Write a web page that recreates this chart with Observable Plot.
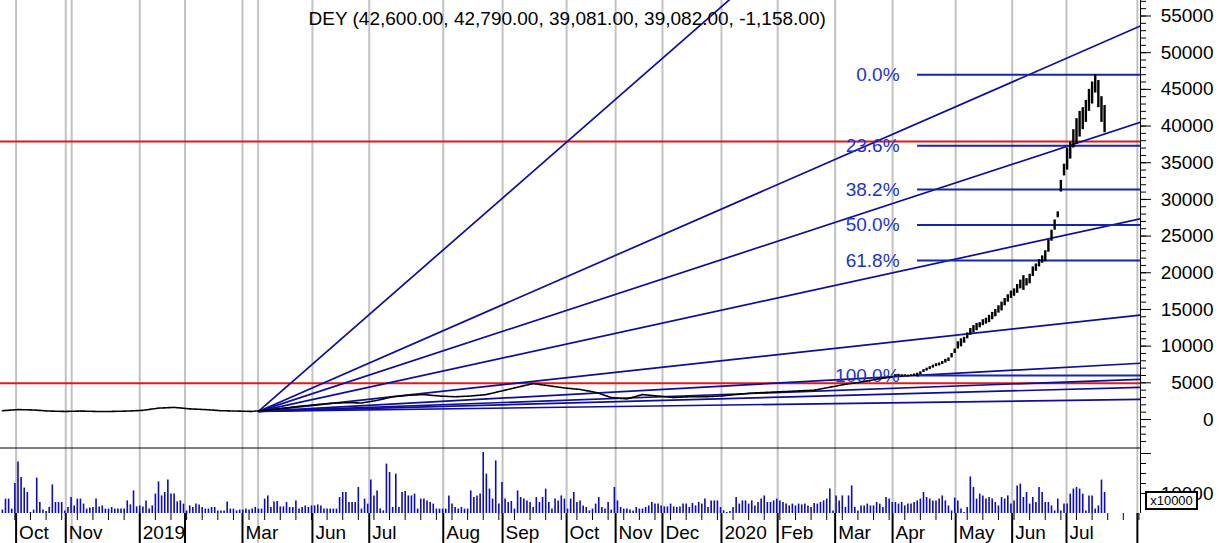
<!DOCTYPE html>
<html><head><meta charset="utf-8">
<script src="https://cdn.jsdelivr.net/npm/d3@7"></script>
<script src="https://cdn.jsdelivr.net/npm/@observablehq/plot@0.6"></script>
<style>
html,body{margin:0;padding:0;background:#fff;}
#wrap{position:relative;width:1220px;height:543px;overflow:hidden;font-family:"Liberation Sans",Arial,sans-serif;}
#wrap svg{display:block;}
#mult{position:absolute;left:1145px;top:491px;width:49px;height:15px;border:2px solid #000;background:#fff;font-size:13px;line-height:15px;text-align:center;font-family:"Liberation Sans",Arial,sans-serif;}
</style></head><body><div id="wrap"></div>
<script>
// ---------- data ----------
const ticker = "DEY";
const lastOHLC = [42600, 42790, 39081, 39082, -1158];

// x axis is the trading-bar index
const gridBars = [4.4, 20.3, 22.2, 44, 58.5, 76.9, 81.9, 99.3, 117.5, 141.2, 160.2, 180.7, 196.4, 211.4, 230.3, 248.3, 266.7, 285.1, 305.3, 323.4, 340.8, 363.5];
const monthTickBars = [4.4, 20.3, 44, 58.5, 76.9, 99.3, 117.5, 141.2, 160.2, 180.7, 196.4, 211.4, 230.3, 248.3, 266.7, 285.1, 305.3, 323.4, 340.8, 363.5];
const labelBars = [4.4, 20.3, 44, 76.9, 99.3, 117.5, 141.2, 160.2, 180.7, 196.4, 211.4, 230.3, 248.3, 266.7, 285.1, 305.3, 323.4, 340.8];
const labelTexts = ["Oct", "Nov", "2019", "Mar", "Jun", "Jul", "Aug", "Sep", "Oct", "Nov", "Dec", "2020", "Feb", "Mar", "Apr", "May", "Jun", "Jul"];

// weekly closes (one every 5 bars) for bars 0..285
const weeklyStep = 5;
const weeklyClose = [1200, 1350, 1300, 1150, 1100, 1150, 1100, 1100, 1150, 1250,
  1550, 1650, 1450, 1350, 1200, 1150, 1100, 1300, 1550, 1800,
  2000, 2200, 2300, 2250, 2600, 3100, 3300, 3400, 3200, 3100,
  3200, 3400, 3900, 4400, 4900, 4600, 4300, 4100, 3700, 3000,
  2800, 3400, 3200, 3000, 3100, 3100, 3200, 3400, 3600, 3700,
  3800, 3900, 4000, 4400, 4800, 5100, 5500, 5800];

// daily bars of the rally, bars 286..353
const rallyStart = 286;
const rallyLow = [5800, 5850, 5800, 5900, 5800, 5900, 5850, 5800, 6100, 6400,
  6600, 6800, 7000, 7200, 7300, 7500, 7700, 7900, 8400, 9000,
  9600, 9900, 10400, 11000, 11500, 11800, 12100, 12500, 12800, 13000,
  13200, 13600, 14000, 14500, 14800, 15500, 16000, 16500, 16800, 17200,
  17800, 17600, 18200, 18500, 19500, 20200, 20800, 21300, 21500, 22800,
  24300, 25800, 27500, 31000, 33200, 34000, 35500, 37000, 37500, 38500,
  39500, 40500, 42000, 43000, 44500, 42500, 40500, 39081];
const rallyHigh = [6100, 6150, 6100, 6100, 6050, 6100, 6200, 6300, 6500, 6800,
  7000, 7200, 7400, 7600, 7700, 7900, 8200, 8400, 9000, 9600,
  10600, 11000, 11200, 11800, 12400, 12800, 13100, 13200, 13600, 13800,
  14200, 14600, 15000, 15500, 16000, 16500, 17000, 17500, 17800, 18400,
  19000, 19600, 19200, 19800, 20800, 21200, 21800, 22300, 23000, 24500,
  25800, 27200, 28300, 32600, 34800, 37000, 37800, 39500, 41000, 42000,
  42500, 43500, 45000, 46000, 47000, 46200, 44000, 42790];

// daily volume (axis units, shown x10000), bars 0..353
const volume = [
  1700,7200,7200,2200,15000,25800,18000,12700,10500,500,
  1700,17700,5500,1700,1000,3000,14300,5500,5500,5500,
  1300,3000,8000,3800,7200,7200,4700,2200,2700,3000,
  7200,3300,3800,2200,2200,3000,2200,2200,2200,2200,
  6300,4300,11300,3300,3800,3300,6300,2200,3800,9700,
  15800,8800,10500,16800,9700,9700,5800,6300,4700,1300,
  3800,3000,4700,4300,3000,2200,2200,3000,3000,1300,
  1300,1300,5800,2200,2200,1300,1700,1700,2200,1700,
  2200,3000,2200,2200,7200,8800,3000,5800,6000,3300,
  3300,5500,3000,3000,6300,2200,
  3000,3800,3000,3800,3800,4300,3800,2200,2200,2200,2200,
  2200,8000,10500,10500,5500,5500,5500,13000,2200,7200,
  4700,16700,8800,11300,2200,1300,24700,20500,3000,19700,3000,
  10500,11000,8800,8800,9700,2200,7200,7200,6300,5500,
  4700,2200,2200,2200,2200,8800,4700,3000,2200,3000,2200,
  2200,11300,8000,8800,9700,30500,19700,12200,7200,26300,4700,
  15500,7200,5500,6000,2200,11300,8000,7200,6300,5500,3000,
  8000,5500,8000,12200,5500,2200,7200,6300,8800,7200,2200,
  7200,10500,5500,6300,3800,3000,1300,2200,4700,8000,3000,2200,
  5500,1700,13000,6300,3000,2200,2200,1700,1300,3000,
  2200,2200,3000,3800,5500,4700,4700,3800,3300,3300,
  4700,3300,3000,3300,4700,4700,3000,5000,3800,5500,
  4700,7200,3000,6300,6300,6300,3000,1300,500,1000,
  3000,8000,4700,6300,6300,4700,6300,3800,5500,7200,
  8800,5500,5500,6300,7200,6300,5500,4700,3800,4700,
  3800,4700,4300,4700,3800,3000,5000,4700,5500,6300,
  7200,12200,1300,8800,6300,8800,3000,8800,13800,3000,
  1300,3800,3800,4700,3800,3800,5500,4700,3000,8000,
  7200,5500,5500,4700,5500,3800,4700,4700,5500,6300,
  7200,10500,8000,7200,6300,6300,7200,8800,6300,3800,
  1300,7700,6300,2200,500,3000,18300,13000,7200,9700,
  8800,7200,8000,7200,5500,3800,8000,7200,8800,4700,
  6300,13800,14700,8000,10500,4700,8000,5500,13000,10500,
  5500,5500,3800,1300,7200,1300,4700,4700,9700,12200,
  13000,12200,9700,1300,8800,8800,2200,3800,16700,10500];

// Gann fan
const fanOriginBar = 82;
const fanOriginPrice = 1100;
const fanUnit = 46.5;               // price per bar of the 1x1 line
const fanRatios = [8, 4, 3, 2, 1, 1/2, 1/3, 1/4, 1/8];

// Fibonacci retracement
const fibHigh = 47000, fibLow = 6000;
const fibStartBar = 293.1;
const fibLevels = [0, 23.6, 38.2, 50.0, 61.8, 100.0];

// horizontal red lines
const redLevels = [37900, 4950];

// axis ticks
const priceMajorTicks = d3.range(0, 55001, 5000);
const priceMinorTicks = d3.range(-3000, 57001, 1000);
const volLabelTicks = [10000];
const volMinorTicks = [10000, 15000, 20000, 25000];
const volMajorTicks = [30000];
const volMultiplier = "x10000";

// ---------- build ----------
const xDomain = [-0.6, 364.5];
const yDomain = [-3817, 57113];
const volDomain = [0, 33000];
const font = "'Liberation Sans', Arial, sans-serif";

const weekly = weeklyClose.map((c, i) => ({bar: i * weeklyStep, close: c}));
const rally = rallyLow.map((l, i) => ({bar: rallyStart + i, low: l, high: rallyHigh[i]}));
const vols = volume.map((v, i) => ({bar: i, vol: v}));
const fan = fanRatios.map(r => ({
  b0: fanOriginBar, p0: fanOriginPrice,
  b1: xDomain[1], p1: fanOriginPrice + r * fanUnit * (xDomain[1] - fanOriginBar)
}));
const fib = fibLevels.map(l => ({
  v: fibHigh - (l / 100) * (fibHigh - fibLow),
  label: l.toFixed(1) + "%",
  x1: fibStartBar, x2: xDomain[1]
}));
const labels = labelBars.map((b, i) => ({bar: b, text: labelTexts[i]}));
const fmt = d3.format(",.2f");
const title = `${ticker} (${lastOHLC.map(v => fmt(v).replace("\u2212", "-")).join(", ")})`;

const lineBlue = "#0e0e98";
const fibBlue = "#1626ac";
const textBlue = "#2233cc";
const red = "#e41818";
const grid = "#c2c2c2";

const pricePlot = Plot.plot({
  width: 1220, height: 447,
  marginLeft: 0, marginRight: 80, marginTop: 0, marginBottom: 0,
  x: {domain: xDomain, axis: null, label: null},
  y: {domain: yDomain, label: null},
  style: {fontFamily: font, fontSize: "19px", background: "#fff", overflow: "visible"},
  marks: [
    Plot.ruleX(gridBars, {stroke: grid, strokeWidth: 2}),
    Plot.ruleY(redLevels, {stroke: red, strokeWidth: 2}),
    Plot.link(fan, {x1: "b0", y1: "p0", x2: "b1", y2: "p1", stroke: lineBlue, strokeWidth: 1.7, clip: true}),
    Plot.ruleY(fib, {y: "v", x1: "x1", x2: "x2", stroke: fibBlue, strokeWidth: 2}),
    Plot.text(fib, {x: "x1", y: "v", text: "label", textAnchor: "end", dx: -18, fill: textBlue, fontSize: 19}),
    Plot.line(weekly, {x: "bar", y: "close", stroke: "#000", strokeWidth: 1.6, strokeDasharray: "1.5,1"}),
    Plot.ruleX(rally, {x: "bar", y1: "low", y2: "high", stroke: "#000", strokeWidth: 2.4}),
    Plot.text([title], {frameAnchor: "top-left", dx: 308, dy: 18, textAnchor: "start", lineAnchor: "middle", fontSize: 19, fill: "#000"}),
    Plot.axisY({anchor: "right", ticks: priceMinorTicks, tickSize: 5, fill: "none", label: null}),
    Plot.axisY({anchor: "right", ticks: priceMajorTicks, tickSize: 10, tickPadding: 63, textAnchor: "end", tickFormat: d => String(d), fontSize: 19, label: null}),
    Plot.ruleX([xDomain[1]], {stroke: "#000", strokeWidth: 1})
  ]
});

const volPlot = Plot.plot({
  width: 1220, height: 96,
  marginLeft: 0, marginRight: 80, marginTop: 0, marginBottom: 30,
  x: {domain: xDomain, label: null},
  y: {domain: volDomain, label: null},
  style: {fontFamily: font, fontSize: "19px", background: "#fff", overflow: "visible"},
  marks: [
    Plot.ruleX(gridBars, {stroke: grid, strokeWidth: 2}),
    Plot.ruleX(vols, {x: "bar", y1: 0, y2: "vol", stroke: "#0a0abe", strokeWidth: 1.6}),
    Plot.ruleY([volDomain[1]], {stroke: "#000", strokeWidth: 1, dy: 0.5}),
    Plot.axisX({ticks: d3.range(4, 365, 5), tickSize: 7, fill: "none", label: null}),
    Plot.axisX({ticks: monthTickBars, tickSize: 30, strokeWidth: 2, fill: "none", label: null}),
    Plot.axisX({ticks: [22.2, 81.9], tickSize: 30, stroke: grid, strokeWidth: 2, fill: "none", label: null}),
    Plot.text(labels, {x: "bar", text: "text", frameAnchor: "bottom", textAnchor: "start", lineAnchor: "middle", dx: 3, dy: 19, fontSize: 19, fill: "#000"}),
    Plot.axisY({anchor: "right", ticks: volMinorTicks, tickSize: 5, fill: "none", label: null}),
    Plot.axisY({anchor: "right", ticks: volMajorTicks, tickSize: 10, fill: "none", label: null}),
    Plot.axisY({anchor: "right", ticks: volLabelTicks, tickSize: 0, tickPadding: 73, textAnchor: "end", tickFormat: d => String(d), fontSize: 19, label: null}),
    Plot.ruleX([xDomain[1]], {stroke: "#000", strokeWidth: 1})
  ]
});

const wrap = document.getElementById("wrap");
wrap.appendChild(pricePlot);
wrap.appendChild(volPlot);
const box = document.createElement("div");
box.id = "mult";
box.textContent = volMultiplier;
wrap.appendChild(box);
</script></body></html>
